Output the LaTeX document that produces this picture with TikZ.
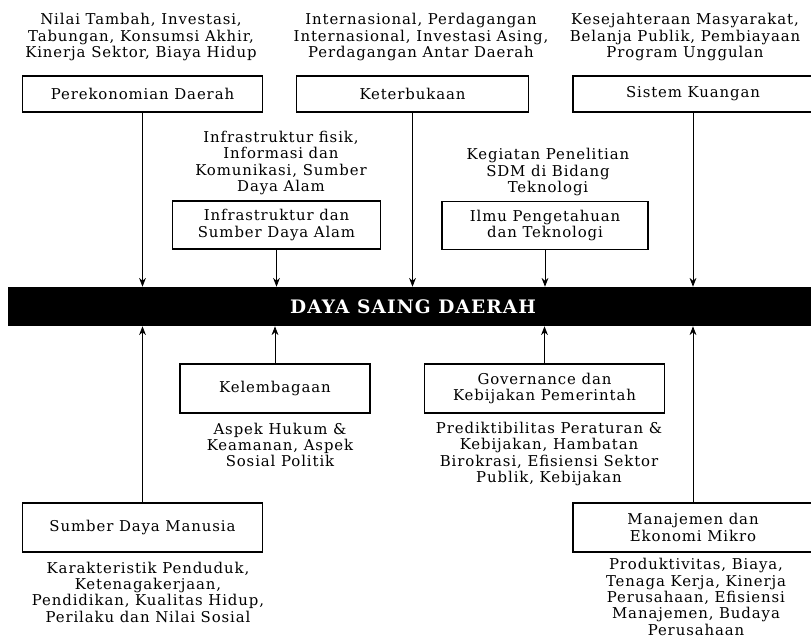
\documentclass[tikz,border=0pt]{standalone}
\usepackage{fontspec}
\setmainfont{DejaVu Serif}[LetterSpace=6]
\usepackage{tikz}
\usetikzlibrary{arrows.meta, positioning}

\begin{document}
\begin{tikzpicture}[
    x=0.025cm, y=-0.025cm,
    box/.style={draw, thick, rectangle, minimum width=6cm, minimum height=0.9cm, align=center, font=\fontsize{10.6}{12}\selectfont},
    info/.style={align=center, inner sep=0pt, font=\fontsize{10.6}{11.6}\selectfont},
    arrow/.style={-{Stealth[length=2.2mm, width=1.7mm]}, semithick}
]
\useasboundingbox (0,0) rectangle (811,640);
\clip (0,0) rectangle (811,640);

\node[fill=black, minimum width=20.25cm, minimum height=0.975cm, text=white, font=\fontsize{13.2}{15}\selectfont\bfseries] (saing) at (413,306.5) {DAYA SAING DAERAH};

% faktor di atas
\node[box] (eko) at (142.5,94) {Perekonomian Daerah};
\node[box, minimum width=5.8cm] (buka) at (412.5,94) {Keterbukaan};
\node[box] (uang) at (693,94) {Sistem Kuangan};
\node[box, minimum width=5.2cm, minimum height=1.2cm] (infra) at (276.5,225) {Infrastruktur dan\\Sumber Daya Alam};
\node[box, minimum width=5.15cm, minimum height=1.2cm] (iptek) at (545,225.5) {Ilmu Pengetahuan\\dan Teknologi};

\node[info] (eko-isi) at (141,37) {Nilai Tambah, Investasi,\\Tabungan, Konsumsi Akhir,\\Kinerja Sektor, Biaya Hidup};
\node[info] (buka-isi) at (421,37) {Internasional, Perdagangan\\Internasional, Investasi Asing,\\Perdagangan Antar Daerah};
\node[info] (uang-isi) at (685,37) {Kesejahteraan Masyarakat,\\Belanja Publik, Pembiayaan\\Program Unggulan};
\node[info] (infra-isi) at (281,163) {Infrastruktur fisik,\\Informasi dan\\Komunikasi, Sumber\\Daya Alam};
\node[info] (iptek-isi) at (548,172) {Kegiatan Penelitian\\SDM di Bidang\\Teknologi};

% faktor di bawah
\node[box, minimum width=4.75cm, minimum height=1.225cm] (lembaga) at (275,388.5) {Kelembagaan};
\node[box, minimum height=1.225cm] (gov) at (544.5,388.5) {Governance dan\\Kebijakan Pemerintah};
\node[box, minimum height=1.225cm] (sdm) at (142.5,527.5) {Sumber Daya Manusia};
\node[box, minimum height=1.225cm] (mikro) at (693,527.5) {Manajemen dan\\Ekonomi Mikro};

\node[info] (lembaga-isi) at (280,445) {Aspek Hukum \&\\Keamanan, Aspek\\Sosial Politik};
\node[info] (gov-isi) at (549,454) {Prediktibilitas Peraturan \&\\Kebijakan, Hambatan\\Birokrasi, Efisiensi Sektor\\Publik, Kebijakan};
\node[info] (sdm-isi) at (148,592) {Karakteristik Penduduk,\\Ketenagakerjaan,\\Pendidikan, Kualitas Hidup,\\Perilaku dan Nilai Sosial};
\node[info] (mikro-isi) at (696,597) {Produktivitas, Biaya,\\Tenaga Kerja, Kinerja\\Perusahaan, Efisiensi\\Manajemen, Budaya\\Perusahaan};

% panah ke daya saing
\draw[arrow] (eko.south) -- (eko.south |- saing.north);
\draw[arrow] (buka.south) -- (buka.south |- saing.north);
\draw[arrow] (uang.south) -- (uang.south |- saing.north);
\draw[arrow] (infra.south) -- (infra.south |- saing.north);
\draw[arrow] (iptek.south) -- (iptek.south |- saing.north);
\draw[arrow] (lembaga.north) -- (lembaga.north |- saing.south);
\draw[arrow] (gov.north) -- (gov.north |- saing.south);
\draw[arrow] (sdm.north) -- (sdm.north |- saing.south);
\draw[arrow] (mikro.north) -- (mikro.north |- saing.south);

\end{tikzpicture}
\end{document}
